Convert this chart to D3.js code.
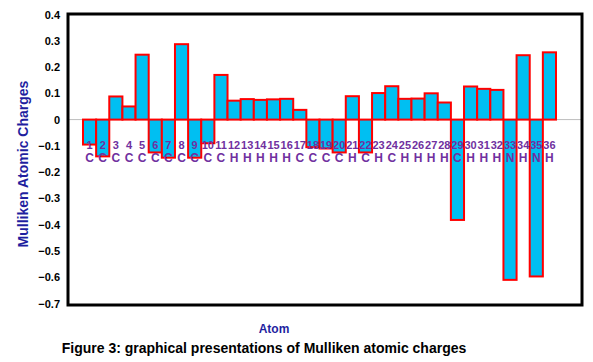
<!DOCTYPE html>
<html>
<head>
<meta charset="utf-8">
<script src="https://cdn.jsdelivr.net/npm/d3@7"></script>
<style>
  body { margin: 0; background: #fff; }
  text { font-family: Arial, "Liberation Sans", sans-serif; font-weight: bold; }
</style>
</head>
<body>
<svg width="593" height="362"></svg>
<script>
// small stand-in for d3-selection-multi's .attrs()
d3.selection.prototype.attrs = function(o) {
    for (let k in o) this.attr(k, o[k])
    return this
}

// atom numbers, element symbols and mulliken charges
let atoms = d3.range(1, 37)
let elements = ["C","C","C","C","C","C","C","C","C","C",
                "C","H","H","H","H","H","C","C","C","C",
                "H","C","H","C","H","H","H","H","C","H",
                "H","H","N","H","N","H"]
let charges = [-0.095, -0.14, 0.088, 0.05, 0.247, -0.125, -0.145, 0.287, -0.145, -0.09,
               0.17, 0.072, 0.078, 0.075, 0.077, 0.079, 0.037, -0.105, -0.11, -0.125,
               0.089, -0.125, 0.101, 0.127, 0.079, 0.08, 0.1, 0.065, -0.382, 0.126,
               0.117, 0.113, -0.61, 0.245, -0.597, 0.256]
let yTicks = [0.4, 0.3, 0.2, 0.1, 0, -0.1, -0.2, -0.3, -0.4, -0.5, -0.6, -0.7]

let bar_data = atoms.map((a, i) => { return {id: a, el: elements[i], q: charges[i]} })

let svg = d3.select("svg")
let frame = {left: 68, right: 582, top: 14, bottom: 305}

let y = d3.scaleLinear().domain([-0.7, 0.4]).range([frame.bottom - 1.5, frame.top + 0.5])
let x = d3.scaleBand().domain(atoms).range([83, 556]).padding(0)

// zero line
svg.append("line")
   .attrs({x1: frame.left, x2: frame.right, y1: y(0), y2: y(0), stroke: "#bdbdbd", "stroke-width": 1})

// bars
svg.selectAll("rect.bar")
   .data(bar_data, bd => bd.id)
   .join("rect")
   .attrs({
     class: "bar",
     x: bd => x(bd.id),
     y: bd => y(Math.max(0, bd.q)),
     width: x.bandwidth(),
     height: bd => Math.abs(y(bd.q) - y(0)),
     fill: "#00bff2",
     stroke: "#ff0000",
     "stroke-width": 2
   })

// atom labels (number + element)
let labels = svg.append("g").attr("fill", "#7030a0").attr("font-size", 11).attr("text-anchor", "middle")
labels.selectAll("text.num")
   .data(bar_data).join("text")
   .attrs({class: "num", x: bd => x(bd.id) + x.bandwidth()/2, y: 149})
   .text(bd => bd.id)
labels.selectAll("text.el")
   .data(bar_data).join("text")
   .attrs({class: "el", x: bd => x(bd.id) + x.bandwidth()/2, y: 162})
   .attr("font-size", 12)
   .text(bd => bd.el)

// plot frame
svg.append("rect")
   .attrs({x: frame.left, y: frame.top, width: frame.right - frame.left, height: frame.bottom - frame.top,
           fill: "none", stroke: "#000", "stroke-width": 3})

// y axis tick labels
let yAxis = d3.axisLeft(y).tickValues(yTicks).tickSize(0).tickPadding(8)
  .tickFormat(d => d === 0 ? "0" : d3.format(".1f")(d))
let gy = svg.append("g").attr("transform", `translate(${frame.left},0)`).call(yAxis)
gy.select(".domain").remove()
gy.selectAll("text").attrs({"font-size": 11, fill: "#000", "font-family": "Arial, 'Liberation Sans', sans-serif", "font-weight": "bold"})

// axis titles
svg.append("text")
   .attrs({transform: "translate(28,164) rotate(-90)", "text-anchor": "middle", fill: "#1f1f9f", "font-size": 14})
   .text("Mulliken Atomic Charges")
svg.append("text")
   .attrs({x: 274, y: 333, "text-anchor": "middle", fill: "#1f1f9f", "font-size": 12})
   .text("Atom")

// caption
svg.append("text")
   .attrs({x: 264, y: 353, "text-anchor": "middle", fill: "#000", "font-size": 14})
   .text("Figure 3: graphical presentations of Mulliken atomic charges")
</script>
</body>
</html>
